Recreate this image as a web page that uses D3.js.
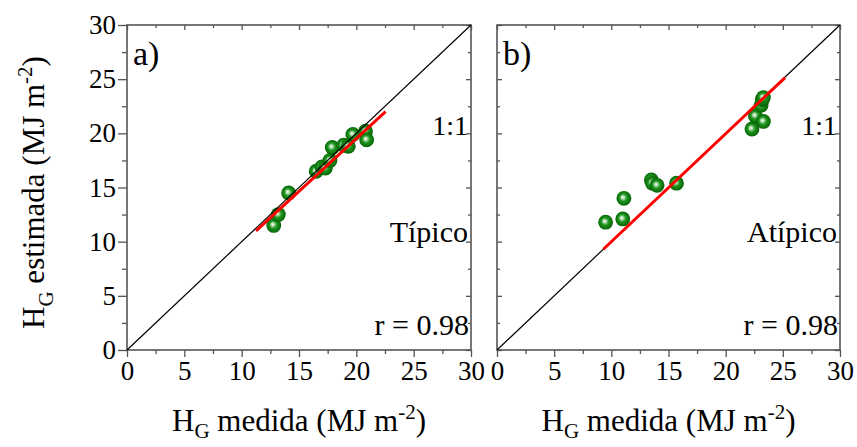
<!DOCTYPE html>
<html>
<head>
<meta charset="utf-8">
<script src="https://d3js.org/d3.v7.min.js"></script>
<style>
  body { margin: 0; background: #fff; }
</style>
</head>
<body>
<div id="chart"></div>
<script>
// data
var ticks = [0, 5, 10, 15, 20, 25, 30];
var minorTicks = [2.5, 7.5, 12.5, 17.5, 22.5, 27.5];

// a) Típico
var medidaA   = [12.8, 13.2, 14.1, 16.5, 17.0, 17.3, 17.7, 17.9, 18.9, 19.3, 19.7, 20.8, 20.9];
var estimadaA = [11.5, 12.5, 14.5, 16.5, 16.9, 16.8, 17.5, 18.7, 18.9, 18.8, 19.9, 20.2, 19.4];
var fitA = [[11.25, 11.0], [22.55, 22.0]];

// b) Atípico
var medidaB   = [9.5, 11.0, 11.1, 13.5, 13.6, 14.0, 15.7, 22.3, 22.6, 23.3, 23.1, 23.2, 23.3];
var estimadaB = [11.8, 12.1, 14.0, 15.7, 15.4, 15.2, 15.4, 20.4, 21.6, 21.1, 22.6, 23.1, 23.3];
var fitB = [[9.3, 9.3], [25.2, 25.15]];

var panels = [
  { tag: "a)", name: "Típico",  x: medidaA, y: estimadaA, fit: fitA, left: 127, right: 471, yLabels: true },
  { tag: "b)", name: "Atípico", x: medidaB, y: estimadaB, fit: fitB, left: 497, right: 840, yLabels: false }
];

var width = 857, height = 447;
var top0 = 25, bottom0 = 350;
var axisColor = "#555";
var serif = "'Liberation Serif', 'Times New Roman', Times, 'DejaVu Serif', serif";

var svg = d3.select("#chart").append("svg")
  .attr("width", width)
  .attr("height", height)
  .attr("font-family", serif);

// sphere look for the markers
var grad = svg.append("defs").append("radialGradient")
  .attr("id", "ball")
  .attr("cx", "0.5").attr("cy", "0.5").attr("r", "0.55")
  .attr("fx", "0.42").attr("fy", "0.42");
grad.append("stop").attr("offset", "0%").attr("stop-color", "#ffffff");
grad.append("stop").attr("offset", "18%").attr("stop-color", "#b8e0b8");
grad.append("stop").attr("offset", "45%").attr("stop-color", "#1f961f");
grad.append("stop").attr("offset", "100%").attr("stop-color", "#005a00");

var y = d3.scaleLinear().domain([0, 30]).range([bottom0, top0]);

panels.forEach(function(p) {
  var x = d3.scaleLinear().domain([0, 30]).range([p.left, p.right]);
  var g = svg.append("g");

  // minor ticks (no labels)
  g.append("g").attr("transform", "translate(0," + bottom0 + ")")
    .call(d3.axisBottom(x).tickValues(minorTicks).tickSize(4).tickFormat(""));
  g.append("g").attr("transform", "translate(0," + top0 + ")")
    .call(d3.axisBottom(x).tickValues(minorTicks).tickSize(3).tickFormat(""));
  g.append("g").attr("transform", "translate(" + p.right + ",0)")
    .call(d3.axisLeft(y).tickValues(minorTicks).tickSize(3).tickFormat(""));
  if (p.yLabels) {
    g.append("g").attr("transform", "translate(" + p.left + ",0)")
      .call(d3.axisLeft(y).tickValues(minorTicks).tickSize(5).tickFormat(""));
  } else {
    g.append("g").attr("transform", "translate(" + p.left + ",0)")
      .call(d3.axisRight(y).tickValues(minorTicks).tickSize(3).tickFormat(""));
  }

  // major ticks
  g.append("g").attr("transform", "translate(0," + bottom0 + ")")
    .call(d3.axisBottom(x).tickValues(ticks).tickSize(7).tickPadding(4).tickFormat(d3.format("d")));
  g.append("g").attr("transform", "translate(0," + top0 + ")")
    .call(d3.axisBottom(x).tickValues(ticks).tickSize(5).tickFormat(""));
  g.append("g").attr("transform", "translate(" + p.right + ",0)")
    .call(d3.axisLeft(y).tickValues(ticks).tickSize(5).tickFormat(""));
  if (p.yLabels) {
    g.append("g").attr("transform", "translate(" + p.left + ",0)")
      .call(d3.axisLeft(y).tickValues(ticks).tickSize(9).tickPadding(2).tickFormat(d3.format("d")));
  } else {
    g.append("g").attr("transform", "translate(" + p.left + ",0)")
      .call(d3.axisRight(y).tickValues(ticks).tickSize(5).tickFormat(""));
  }

  g.selectAll(".domain").remove();
  g.selectAll("g").attr("font-family", serif).attr("font-size", 27);
  g.selectAll(".tick line").attr("stroke", axisColor).attr("stroke-width", 1.3);
  g.selectAll(".tick text").attr("fill", "#000");

  // frame
  g.append("rect")
    .attr("x", p.left).attr("y", top0)
    .attr("width", p.right - p.left).attr("height", bottom0 - top0)
    .attr("fill", "none").attr("stroke", axisColor).attr("stroke-width", 1.6);

  // points
  g.append("g").selectAll("circle")
    .data(p.x.map(function(v, i) { return [v, p.y[i]]; }))
    .enter().append("circle")
    .attr("cx", function(d) { return x(d[0]); })
    .attr("cy", function(d) { return y(d[1]); })
    .attr("r", 7.4)
    .attr("fill", "url(#ball)");

  // 1:1 line
  g.append("line")
    .attr("x1", x(0)).attr("y1", y(0))
    .attr("x2", x(30)).attr("y2", y(30))
    .attr("stroke", "#000").attr("stroke-width", 1.2);

  // fitted line
  g.append("line")
    .attr("x1", x(p.fit[0][0])).attr("y1", y(p.fit[0][1]))
    .attr("x2", x(p.fit[1][0])).attr("y2", y(p.fit[1][1]))
    .attr("stroke", "#ff0000").attr("stroke-width", 3);

  // labels inside
  g.append("text").attr("x", p.left + 6).attr("y", top0 + 40)
    .attr("font-size", 34).text(p.tag);
  g.append("text").attr("x", p.right - 3).attr("y", 135)
    .attr("text-anchor", "end").attr("font-size", 28).text("1:1");
  g.append("text").attr("x", p.right - 3).attr("y", 242)
    .attr("text-anchor", "end").attr("font-size", 30).text(p.name);
  g.append("text").attr("x", p.right - 2).attr("y", 335)
    .attr("text-anchor", "end").attr("font-size", 30).text("r = 0.98");

  // x title
  var xt = g.append("text")
    .attr("x", (p.left + p.right) / 2).attr("y", 431)
    .attr("text-anchor", "middle").attr("font-size", 31);
  xt.append("tspan").text("H");
  xt.append("tspan").attr("dy", 7).attr("font-size", 21).text("G");
  xt.append("tspan").attr("dy", -7).text(" medida (MJ m");
  xt.append("tspan").attr("dy", -12).attr("font-size", 21).text("-2");
  xt.append("tspan").attr("dy", 12).text(")");
});

// y title
var yt = svg.append("text")
  .attr("transform", "translate(44," + ((top0 + bottom0) / 2 + 5) + ") rotate(-90)")
  .attr("text-anchor", "middle").attr("font-size", 31);
yt.append("tspan").text("H");
yt.append("tspan").attr("dy", 9).attr("font-size", 21).text("G");
yt.append("tspan").attr("dy", -9).text(" estimada (MJ m");
yt.append("tspan").attr("dy", -12).attr("font-size", 21).text("-2");
yt.append("tspan").attr("dy", 12).text(")");
</script>
</body>
</html>
